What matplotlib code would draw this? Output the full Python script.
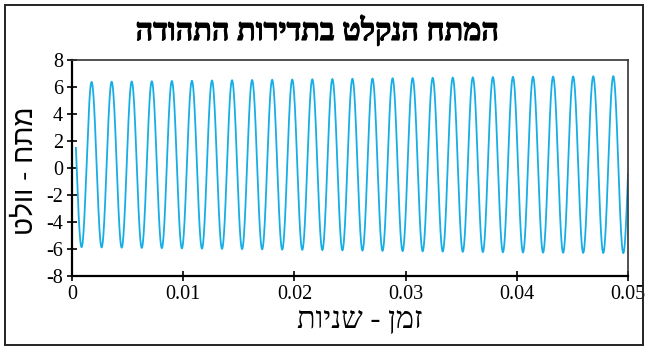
import numpy as np
import matplotlib
matplotlib.use("Agg")
import matplotlib.pyplot as plt
import matplotlib.patheffects as pe
from matplotlib.patches import Rectangle

plt.rcParams["axes.unicode_minus"] = False

title = "המתח הנקלט בתדירות התהודה"
x_label = "זמן - שניות"
y_label = "מתח - וולט"

x_ticks = [0, 0.01, 0.02, 0.03, 0.04, 0.05]
x_tick_labels = ["0", "0.01", "0.02", "0.03", "0.04", "0.05"]
y_ticks = [-8, -6, -4, -2, 0, 2, 4, 6, 8]

# received signal: carrier, timing of first trough, dc offset and slowly growing envelope
carrier_hz = 554.2
first_trough_s = 0.00086
dc_offset_v = 0.25
envelope_t = [0.0, 0.01, 0.02, 0.03, 0.04, 0.05]
envelope_v = [6.1, 6.2, 6.3, 6.4, 6.5, 6.55]
record_start_s = 0.00035
record_end_s = 0.05

line_color = "#17aee6"
serif = ["Liberation Serif", "DejaVu Sans"]
sans = ["Liberation Sans", "DejaVu Sans"]


def rtl(s):
    # matplotlib lays text out left to right, so Hebrew goes in reversed order
    return s[::-1]


t = np.linspace(record_start_s, record_end_s, 6000)
amp = np.interp(t, envelope_t, envelope_v)
v = dc_offset_v - amp * np.cos(2 * np.pi * carrier_hz * (t - first_trough_s))

fig = plt.figure(figsize=(6.45, 3.47), dpi=100)
ax = fig.add_axes([72 / 645, 1 - 276 / 347, (628 - 72) / 645, (276 - 60) / 347])

ax.plot(t, v, color=line_color, lw=1.3, solid_joinstyle="miter")

ax.set_xlim(0, 0.05)
ax.set_ylim(-8, 8)
ax.set_xticks(x_ticks)
ax.set_xticklabels(x_tick_labels)
ax.set_yticks(y_ticks)
ax.tick_params(direction="inout", length=7, width=1.2, colors="black",
               labelsize=14.5, pad=3)
for lab in ax.get_xticklabels() + ax.get_yticklabels():
    lab.set_family(serif)

for side in ["left", "bottom"]:
    ax.spines[side].set_linewidth(1.6)
for side in ["top", "right"]:
    ax.spines[side].set_linewidth(1.2)
    ax.spines[side].set_color("#333333")

fig.text(317 / 645, 1 - 31 / 347, rtl(title), ha="center", va="center",
         fontsize=22, fontweight="bold", family=serif,
         path_effects=[pe.withStroke(linewidth=0.8, foreground="black")])
fig.text(360 / 645, 1 - 320 / 347, rtl(x_label), ha="center",
         va="center", fontsize=22, family=serif)
fig.text(26 / 645, 1 - 171 / 347, rtl(y_label), rotation=90,
         ha="center", va="center", fontsize=20, family=sans)

fig.patches.append(Rectangle((5 / 645, 2 / 347), 638 / 645, 340 / 347,
                             transform=fig.transFigure, fill=False,
                             edgecolor="#222222", lw=1.4))

fig.savefig("out.png", dpi=100)
